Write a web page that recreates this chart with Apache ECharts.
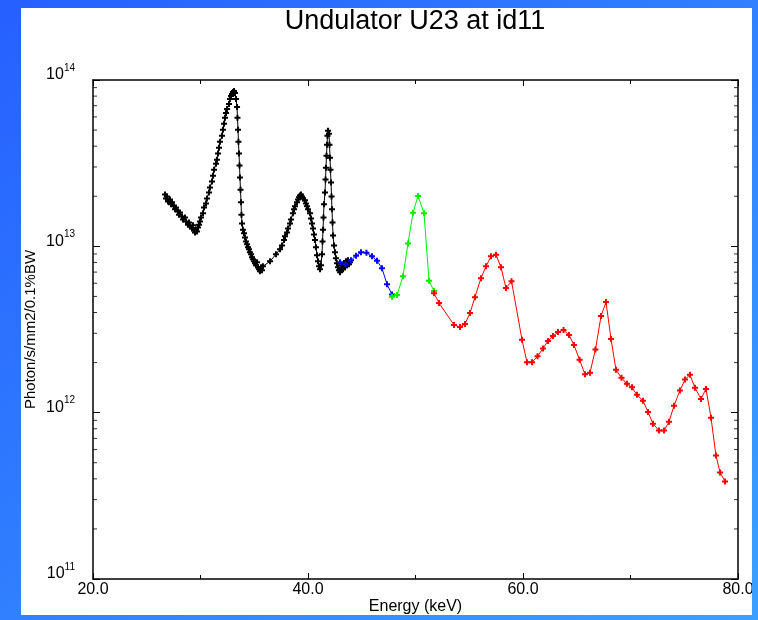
<!DOCTYPE html>
<html>
<head>
<meta charset="utf-8">
<script src="https://cdn.jsdelivr.net/npm/echarts@6/dist/echarts.min.js"></script>
<style>
  html, body { margin: 0; padding: 0; }
  body {
    width: 758px; height: 620px; overflow: hidden;
    background: linear-gradient(to bottom right, #2660ff, #3aa0ff);
    position: relative;
  }
  #panel {
    position: absolute; left: 21px; top: 8px; width: 731px; height: 607px;
    background: #fff; overflow: hidden;
  }
  #chart { width: 731px; height: 607px; }
</style>
</head>
<body>
<div id="panel"><div id="chart"></div></div>
<script>
// values: energy (keV) and flux (photon/s/mm2/0.1%BW)
const blackE = [26.70, 26.79, 26.88, 26.98, 27.16, 27.26, 27.35, 27.53, 27.63, 27.72, 27.91, 28.00, 28.09, 28.28, 28.37, 28.56, 28.65, 28.84, 28.93, 29.02,
  29.21, 29.30, 29.40, 29.49, 29.58, 29.67, 29.77, 29.86, 29.95, 30.05, 30.23, 30.33, 30.51, 30.60, 30.79, 30.88, 31.07, 31.16, 31.26, 31.44,
  31.53, 31.63, 31.72, 31.81, 32.00, 32.09, 32.19, 32.28, 32.37, 32.47, 32.65, 32.74, 32.84, 32.93, 33.02, 33.12, 33.21, 33.30, 33.40, 33.44,
  33.49, 33.53, 33.58, 33.63, 33.67, 33.72, 33.77, 33.81, 33.86, 33.95, 34.05, 34.14, 34.23, 34.33, 34.42, 34.51, 34.60, 34.70, 34.79, 34.88,
  34.98, 35.07, 35.16, 35.26, 35.35, 35.44, 35.53, 35.63, 35.72, 35.81, 36.47, 37.02, 37.40, 37.58, 37.77, 37.86, 38.05, 38.14, 38.33, 38.42,
  38.60, 38.70, 38.79, 38.98, 39.07, 39.16, 39.26, 39.35, 39.44, 39.53, 39.72, 39.81, 39.91, 40.00, 40.19, 40.28, 40.37, 40.47, 40.56, 40.65,
  40.74, 40.84, 40.93, 41.02, 41.12, 41.21, 41.30, 41.35, 41.40, 41.44, 41.49, 41.58, 41.63, 41.67, 41.72, 41.77, 41.81, 41.86, 41.95, 42.00,
  42.05, 42.09, 42.14, 42.19, 42.23, 42.28, 42.33, 42.42, 42.51, 42.60, 42.70, 42.79, 42.88, 42.98, 43.07, 43.16, 43.26, 43.35, 43.44, 43.53,
  43.63, 43.72, 43.81, 43.91];
const blackF = [2.05e13, 1.94e13, 1.99e13, 1.86e13, 1.91e13, 1.79e13, 1.84e13, 1.74e13, 1.67e13, 1.71e13, 1.62e13, 1.55e13, 1.60e13, 1.51e13, 1.45e13, 1.49e13, 1.41e13, 1.35e13, 1.39e13, 1.32e13,
  1.28e13, 1.34e13, 1.25e13, 1.21e13, 1.26e13, 1.23e13, 1.30e13, 1.35e13, 1.41e13, 1.49e13, 1.58e13, 1.71e13, 1.81e13, 1.94e13, 2.11e13, 2.26e13, 2.45e13, 2.66e13, 2.89e13, 3.14e13,
  3.32e13, 3.61e13, 3.92e13, 4.25e13, 4.62e13, 5.02e13, 5.45e13, 5.92e13, 6.34e13, 6.70e13, 7.18e13, 7.70e13, 8.02e13, 8.25e13, 8.48e13, 8.59e13, 8.36e13, 7.70e13, 6.89e13, 5.92e13,
  5.02e13, 4.25e13, 3.61e13, 3.06e13, 2.59e13, 2.19e13, 1.84e13, 1.55e13, 1.37e13, 1.26e13, 1.20e13, 1.13e13, 1.07e13, 1.03e13, 9.86e12, 9.60e12, 9.21e12, 8.96e12, 8.59e12, 8.36e12,
  8.13e12, 7.91e12, 7.70e12, 8.02e12, 7.49e12, 7.28e12, 7.09e12, 7.49e12, 7.18e12, 7.59e12, 8.13e12, 8.96e12, 9.60e12, 1.01e13, 1.09e13, 1.15e13, 1.21e13, 1.28e13, 1.37e13, 1.45e13,
  1.58e13, 1.67e13, 1.74e13, 1.84e13, 1.91e13, 1.97e13, 2.02e13, 2.05e13, 1.99e13, 1.94e13, 1.89e13, 1.81e13, 1.74e13, 1.67e13, 1.58e13, 1.47e13, 1.37e13, 1.28e13, 1.18e13, 1.09e13,
  9.86e12, 8.83e12, 8.13e12, 7.59e12, 7.28e12, 7.70e12, 8.96e12, 1.07e13, 1.26e13, 1.49e13, 1.79e13, 2.11e13, 2.52e13, 2.97e13, 3.51e13, 4.08e13, 4.62e13, 4.95e13, 4.75e13, 4.08e13,
  3.41e13, 2.89e13, 2.42e13, 1.99e13, 1.67e13, 1.39e13, 1.16e13, 1.01e13, 9.21e12, 8.48e12, 7.91e12, 7.49e12, 7.18e12, 6.99e12, 7.28e12, 7.70e12, 7.28e12, 7.91e12, 7.49e12, 8.13e12,
  7.70e12, 8.25e12, 7.80e12, 8.02e12];

const blueE = [42.98, 43.49, 44.00, 44.47, 44.93, 45.44, 45.95, 46.42, 46.88, 47.35, 47.81];
const blueF = [8.02e12, 7.80e12, 8.25e12, 8.77e12, 9.21e12, 9.14e12, 8.71e12, 8.19e12, 7.39e12, 5.92e12, 5.13e12];

const greenE = [47.81, 48.28, 48.84, 49.30, 49.77, 50.23, 50.79, 51.26, 51.72];
const greenF = [4.98e12, 5.09e12, 6.61e12, 1.04e13, 1.59e13, 2.01e13, 1.58e13, 6.21e12, 5.38e12];

const redE = [51.72, 52.19, 53.58, 54.14, 54.60, 55.07, 55.53, 56.09, 56.56, 57.02, 57.49, 57.95, 58.42, 58.93, 59.91, 60.37, 60.84, 61.35, 61.86, 62.33,
  62.79, 63.26, 63.77, 64.28, 64.74, 65.26, 65.77, 66.23, 66.74, 67.26, 67.72, 68.19, 68.65, 69.16, 69.67, 70.14, 70.60, 71.16, 71.63, 72.09,
  72.65, 73.12, 73.58, 74.05, 74.60, 75.07, 75.53, 76.00, 76.56, 77.02, 77.49, 77.95, 78.33, 78.79];
const redF = [5.23e12, 4.56e12, 3.37e12, 3.27e12, 3.41e12, 3.97e12, 4.95e12, 6.43e12, 7.59e12, 8.71e12, 8.90e12, 7.49e12, 5.61e12, 6.17e12, 2.74e12, 2.01e12, 2.01e12, 2.18e12, 2.43e12, 2.70e12,
  2.89e12, 3.05e12, 3.14e12, 2.93e12, 2.55e12, 2.08e12, 1.70e12, 1.74e12, 2.40e12, 3.81e12, 4.62e12, 2.77e12, 1.81e12, 1.62e12, 1.49e12, 1.42e12, 1.28e12, 1.18e12, 1.01e12, 8.59e11,
  7.80e11, 7.80e11, 8.83e11, 1.10e12, 1.36e12, 1.58e12, 1.69e12, 1.41e12, 1.21e12, 1.39e12, 9.33e11, 5.53e11, 4.37e11, 3.86e11];

// log-axis minor tick positions (2..9 in each decade)
const minorTickF = [2e11, 3e11, 4e11, 5e11, 6e11, 7e11, 8e11, 9e11,
  2e12, 3e12, 4e12, 5e12, 6e12, 7e12, 8e12, 9e12,
  2e13, 3e13, 4e13, 5e13, 6e13, 7e13, 8e13, 9e13];

const pair = (xs, ys) => xs.map((x, i) => [x, ys[i]]);
const plusSymbol = 'path://M1,0H2V1H3V2H2V3H1V2H0V1H1Z';
const FONT = 'Liberation Sans';

const chart = echarts.init(document.getElementById('chart'));

const lineSeries = (name, xs, ys, color) => ({
  name: name,
  type: 'line',
  data: pair(xs, ys),
  symbol: plusSymbol,
  symbolSize: 6,
  showAllSymbol: true,
  itemStyle: { color: color },
  lineStyle: { color: color, width: 1 },
  silent: true
});

const tickSeries = (x, offset) => ({
  type: 'scatter',
  data: minorTickF.map(v => [x, v]),
  symbol: 'rect',
  symbolSize: [4, 1],
  symbolOffset: [offset, 0],
  itemStyle: { color: '#000' },
  clip: false,
  silent: true,
  z: 5
});

const axisLineStyle = { show: true, lineStyle: { color: '#000', width: 1.5 } };

chart.setOption({
  animation: false,
  title: {
    text: 'Undulator U23 at id11',
    left: 389,
    textAlign: 'center',
    top: -5,
    textStyle: { fontFamily: FONT, fontSize: 27, fontWeight: 'normal', color: '#000' }
  },
  grid: { left: 72, top: 72, right: 14, bottom: 36, outerBoundsMode: 'none' },
  xAxis: [
    {
      type: 'value', min: 20, max: 80, interval: 20, position: 'bottom',
      axisLine: axisLineStyle,
      axisTick: { inside: true, length: 6, lineStyle: { color: '#000' } },
      minorTick: { show: true, splitNumber: 2, length: 4, lineStyle: { color: '#000' } },
      splitLine: { show: false },
      axisLabel: { formatter: v => v.toFixed(1), fontFamily: FONT, fontSize: 16, color: '#000', margin: 3 },
      name: 'Energy (keV)', nameLocation: 'middle', nameGap: 20, nameMoveOverlap: false,
      nameTextStyle: { fontFamily: FONT, fontSize: 16, color: '#000' }
    },
    {
      type: 'value', min: 20, max: 80, interval: 20, position: 'top',
      axisLine: axisLineStyle,
      axisTick: { inside: true, length: 6, lineStyle: { color: '#000' } },
      minorTick: { show: true, splitNumber: 2, length: 4, lineStyle: { color: '#000' } },
      splitLine: { show: false },
      axisLabel: { show: false }
    }
  ],
  yAxis: [
    {
      type: 'log', logBase: 10, min: 1e11, max: 1e14, position: 'left',
      axisLine: axisLineStyle,
      axisTick: { inside: true, length: 7, lineStyle: { color: '#000' } },
      splitLine: { show: false },
      axisLabel: {
        margin: 18,
        formatter: v => '{b|10}{s|' + Math.round(Math.log10(v)) + '}',
        rich: {
          b: { fontFamily: FONT, fontSize: 16, color: '#000', padding: [0, 0, 10, 0] },
          s: { fontFamily: FONT, fontSize: 10, color: '#000', padding: [0, 0, 24, 0] }
        }
      },
      name: 'Photon/s/mm2/0.1%BW', nameLocation: 'middle', nameRotate: 90, nameGap: 55, nameMoveOverlap: false,
      nameTextStyle: { fontFamily: FONT, fontSize: 15, color: '#000' }
    },
    {
      type: 'log', logBase: 10, min: 1e11, max: 1e14, position: 'right',
      axisLine: axisLineStyle,
      axisTick: { inside: true, length: 7, lineStyle: { color: '#000' } },
      splitLine: { show: false },
      axisLabel: { show: false }
    }
  ],
  series: [
    lineSeries('black', blackE, blackF, '#000'),
    lineSeries('blue', blueE, blueF, '#0000ff'),
    lineSeries('green', greenE, greenF, '#00ee00'),
    lineSeries('red', redE, redF, '#ff0000'),
    tickSeries(20, 2),
    tickSeries(80, -2)
  ]
});
</script>
</body>
</html>
